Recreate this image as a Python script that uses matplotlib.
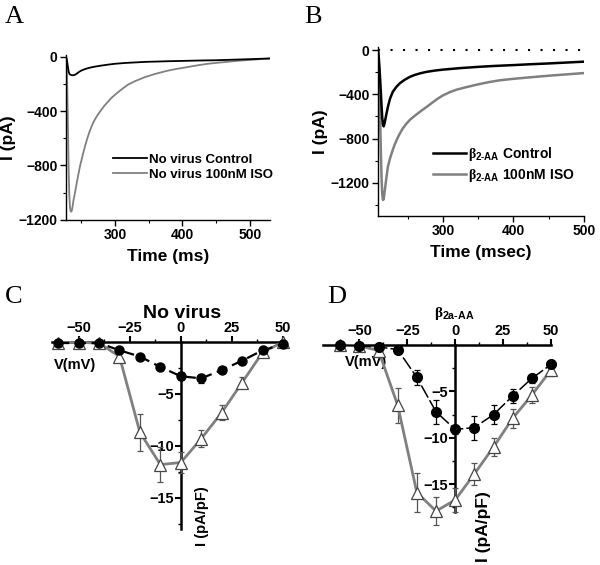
import numpy as np
import matplotlib
matplotlib.use('Agg')
import matplotlib.pyplot as plt
from matplotlib.ticker import FixedLocator

plt.rcParams['font.family'] = ['Liberation Sans', 'DejaVu Sans']
plt.rcParams['font.weight'] = 'bold'
plt.rcParams['mathtext.fontset'] = 'custom'
plt.rcParams['mathtext.rm'] = 'Liberation Serif'
plt.rcParams['mathtext.it'] = 'Liberation Serif'
plt.rcParams['mathtext.bf'] = 'Liberation Sans:bold'

#------------------------ DATA
# panel A: current traces, no virus
a_t_ctrl = [227, 228, 229, 230, 231, 232, 234, 237, 240, 243, 246, 249, 252, 256, 260, 265, 270, 275,
            280, 290, 300, 315, 330, 345, 360, 380, 400, 425, 450, 475, 500, 530]
a_i_ctrl = [0, -15, -45, -80, -110, -125, -133, -136, -133, -124, -112, -103, -96, -89, -83, -77, -72,
            -68, -64, -57, -51, -45, -41, -37, -35, -32, -30, -27, -25, -21, -17, -12]
a_t_iso = [227, 228, 229, 230, 231, 232, 233, 234, 235, 236, 237, 238, 240, 242, 244, 246, 248, 250,
           253, 256, 259, 262, 266, 270, 274, 278, 284, 290, 295, 302, 310, 319, 330, 345, 360, 377,
           390, 400, 418, 436, 455, 470, 485, 500, 515, 530]
a_i_iso = [0, -60, -250, -550, -850, -1030, -1110, -1138, -1140, -1125, -1095, -1060, -1010, -955, -900,
           -850, -800, -760, -700, -645, -595, -550, -500, -460, -428, -400, -360, -327, -300, -270,
           -238, -205, -178, -148, -125, -103, -90, -82, -66, -52, -42, -35, -28, -23, -17, -12]

# panel B: current traces, beta2-AA
b_t_ctrl = [208, 209, 210, 211, 212, 213, 214, 215, 216, 217, 218, 220, 222, 225, 229, 234, 239, 246,
            253, 260, 268, 277, 288, 300, 325, 350, 375, 400, 425, 450, 475, 500]
b_i_ctrl = [0, -60, -150, -260, -380, -500, -610, -675, -690, -670, -640, -575, -515, -440, -377, -333,
            -300, -268, -243, -225, -210, -197, -186, -177, -163, -152, -143, -136, -128, -121, -113, -105]
b_t_iso = [208, 209, 210, 211, 212, 213, 214, 215, 216, 217, 218, 220, 222, 225, 228, 231, 234.5, 238,
           243, 248, 253, 259, 265, 271, 277, 285, 292, 300, 310, 320, 334, 350, 365, 381, 400, 428,
           450, 475, 500]
b_i_iso = [0, -100, -300, -600, -900, -1150, -1300, -1355, -1350, -1300, -1250, -1150, -1055, -980, -920,
           -865, -812, -765, -710, -668, -632, -600, -570, -541, -514, -475, -442, -410, -380, -357,
           -334, -310, -290, -273, -260, -244, -232, -220, -208]

# panels C and D: I-V curves
volts = [-60, -50, -40, -30, -20, -10, 0, 10, 20, 30, 40, 50]
c_ctrl = [-0.1, -0.1, -0.1, -0.8, -1.4, -2.4, -3.3, -3.5, -2.7, -1.8, -0.8, -0.2]
c_ctrl_err = [0.1, 0.1, 0.1, 0.2, 0.2, 0.3, 0.4, 0.4, 0.3, 0.3, 0.2, 0.1]
c_iso = [-0.05, -0.05, -0.1, -1.4, -8.7, -11.8, -11.6, -9.3, -6.8, -3.9, -1.0, 0.0]
c_iso_err = [0.1, 0.1, 0.1, 0.4, 1.8, 1.7, 1.0, 0.8, 0.7, 0.5, 0.3, 0.1]

d_ctrl = [0.0, -0.1, -0.2, -0.5, -3.5, -7.2, -9.1, -8.9, -7.5, -5.5, -3.6, -2.1]
d_ctrl_err = [0.1, 0.1, 0.1, 0.2, 0.8, 1.3, 0.5, 1.3, 1.0, 0.8, 0.5, 0.3]
d_iso = [0.0, -0.1, -0.6, -6.5, -15.9, -17.9, -16.7, -13.9, -11.0, -7.9, -5.4, -2.7]
d_iso_err = [0.1, 0.1, 0.2, 1.9, 2.1, 1.5, 1.3, 1.2, 1.0, 1.0, 0.9, 0.6]

gray = '#808080'

fig = plt.figure(figsize=(6.0, 5.65), dpi=100)

#------------------------ A
axA = fig.add_axes([0.11, 0.611, 0.34, 0.292])
axA.plot(a_t_iso, a_i_iso, color=gray, lw=1.3, label='No virus 100nM ISO')
axA.plot(a_t_ctrl, a_i_ctrl, color='black', lw=1.3, label='No virus Control')
axA.set_xlim(227, 530)
axA.set_ylim(-1200, 15)
axA.set_xticks([300, 400, 500])
axA.set_xticks([250, 350, 450], minor=True)
axA.set_yticks([0, -400, -800, -1200])
axA.set_yticks([-200, -600, -1000], minor=True)
axA.set_xlabel('Time (ms)', fontsize=12.5, fontweight='bold', labelpad=5)
axA.set_ylabel('I (pA)', fontsize=12.5, fontweight='bold', labelpad=2)
h, l = axA.get_legend_handles_labels()
axA.legend(h[::-1], l[::-1], loc='upper left', bbox_to_anchor=(0.23, 0.40), frameon=False,
           handlelength=2.6, handletextpad=0.15, borderpad=0, borderaxespad=0,
           labelspacing=0.2, prop={'weight': 'bold', 'size': 9.5})

#------------------------ B
axB = fig.add_axes([0.63, 0.6177, 0.3433, 0.299])
axB.plot([208, 500], [0, 0], color='black', lw=1.5, ls=(0, (1, 5)))
axB.plot(b_t_iso, b_i_iso, color=gray, lw=1.8, label=r'$\beta_{\mathbf{2\text{-}AA}}$ 100nM ISO')
axB.plot(b_t_ctrl, b_i_ctrl, color='black', lw=1.8, label=r'$\beta_{\mathbf{2\text{-}AA}}$ Control')
axB.set_xlim(208, 500)
axB.set_ylim(-1500, 27)
axB.set_xticks([300, 400, 500])
axB.set_xticks([250, 350, 450], minor=True)
axB.set_yticks([0, -400, -800, -1200])
axB.set_yticks([-200, -600, -1000, -1400], minor=True)
axB.set_xlabel('Time (msec)', fontsize=12.5, fontweight='bold', labelpad=5)
axB.set_ylabel('I (pA)', fontsize=12.5, fontweight='bold', labelpad=2)
h, l = axB.get_legend_handles_labels()
axB.legend(h[::-1], l[::-1], loc='upper left', bbox_to_anchor=(0.267, 0.42), frameon=False,
           handlelength=2.4, handletextpad=0.15, borderpad=0, borderaxespad=0,
           labelspacing=0.3, prop={'weight': 'bold', 'size': 10})

for ax in (axA, axB):
    for s in ('top', 'right'):
        ax.spines[s].set_visible(False)
    for s in ('left', 'bottom'):
        ax.spines[s].set_linewidth(1.0)
    ax.tick_params(which='major', direction='out', length=4, width=1, labelsize=10, pad=2)
    ax.tick_params(which='minor', direction='out', length=2.5, width=0.8)
    for lab in ax.get_xticklabels() + ax.get_yticklabels():
        lab.set_fontweight('bold')


#------------------------ C, D
def iv_axes(ax, xlim):
    ax.set_xlim(*xlim)
    ax.set_ylim(-18, 0)
    ax.spines['left'].set_position(('data', 0))
    ax.spines['top'].set_position(('data', 0))
    ax.spines['right'].set_visible(False)
    ax.spines['bottom'].set_visible(False)
    for s in ('left', 'top'):
        ax.spines[s].set_linewidth(1.8)
    ax.xaxis.set_ticks_position('top')
    ax.yaxis.set_ticks_position('left')
    ax.set_xticks([-50, -25, 0, 25, 50])
    ax.xaxis.set_minor_locator(FixedLocator([-37.5, -12.5, 12.5, 37.5]))
    ax.set_yticks([-5, -10, -15])
    ax.yaxis.set_minor_locator(FixedLocator([-2.5, -7.5, -12.5, -17.5]))
    ax.tick_params(which='major', direction='out', length=4, width=1.5, labelsize=10.5, pad=1)
    ax.tick_params(which='minor', direction='out', length=2.5, width=1)
    for lab in ax.get_xticklabels() + ax.get_yticklabels():
        lab.set_fontweight('bold')
    ax.patch.set_visible(False)


axC = fig.add_axes([0.0867, 0.0637, 0.385, 0.331])
iv_axes(axC, (-63, 50))
axC.errorbar(volts, c_iso, yerr=c_iso_err, fmt='none', ecolor='#555555', elinewidth=0.9,
             capsize=2.5, capthick=0.9, clip_on=False, zorder=3)
axC.plot(volts, c_iso, color=gray, lw=2.0, marker='^', ms=9, mfc='white', mec='#444444',
         mew=0.9, clip_on=False, zorder=4)
axC.errorbar(volts, c_ctrl, yerr=c_ctrl_err, fmt='none', ecolor='black', elinewidth=0.9,
             capsize=2.5, capthick=0.9, clip_on=False, zorder=3)
axC.plot(volts, c_ctrl, color='black', lw=1.6, ls=(0, (5, 2.5)), marker='o', ms=6.5,
         clip_on=False, zorder=5)
axC.text(0.5, 1.155, 'No virus', transform=axC.get_xaxis_transform(), ha='center', va='center',
         fontsize=14, fontweight='bold')
axC.text(-62, -2.2, 'V(mV)', ha='left', va='center', fontsize=10.5, fontweight='bold')
axC.text(10.3, -16.8, 'I (pA/pF)', rotation=90, ha='center', va='center', fontsize=10.5,
         fontweight='bold', clip_on=False)

axD = fig.add_axes([0.5383, 0.0938, 0.38, 0.2956])
iv_axes(axD, (-69, 50))
axD.errorbar(volts, d_iso, yerr=d_iso_err, fmt='none', ecolor='#555555', elinewidth=0.9,
             capsize=2.5, capthick=0.9, clip_on=False, zorder=3)
axD.plot(volts, d_iso, color=gray, lw=2.0, marker='^', ms=9, mfc='white', mec='#444444',
         mew=0.9, clip_on=False, zorder=4)
axD.errorbar(volts, d_ctrl, yerr=d_ctrl_err, fmt='none', ecolor='black', elinewidth=0.9,
             capsize=2.5, capthick=0.9, clip_on=False, zorder=3)
axD.plot(volts, d_ctrl, color='black', lw=1.1, ls=(0, (9, 2)), marker='o', ms=7,
         clip_on=False, zorder=5)
axD.text(-57.8, -1.8, 'V(mV)', ha='left', va='center', fontsize=10.5, fontweight='bold')
axD.text(14.6, -19.6, 'I (pA/pF)', rotation=90, ha='center', va='center', fontsize=12.5,
         fontweight='bold', clip_on=False)
axD.text(-11, 1.19, r'$\beta_{\mathbf{2a\text{-}AA}}$', transform=axD.get_xaxis_transform(),
         ha='left', va='center', fontsize=11)

#------------------------ panel letters
for x, y, s in [(0.008, 0.96, 'A'), (0.507, 0.96, 'B'), (0.008, 0.464, 'C'), (0.545, 0.464, 'D')]:
    fig.text(x, y, s, fontsize=19, family='Liberation Serif', fontweight='normal', va='baseline')

fig.savefig('out.png', dpi=100)
plt.close(fig)
